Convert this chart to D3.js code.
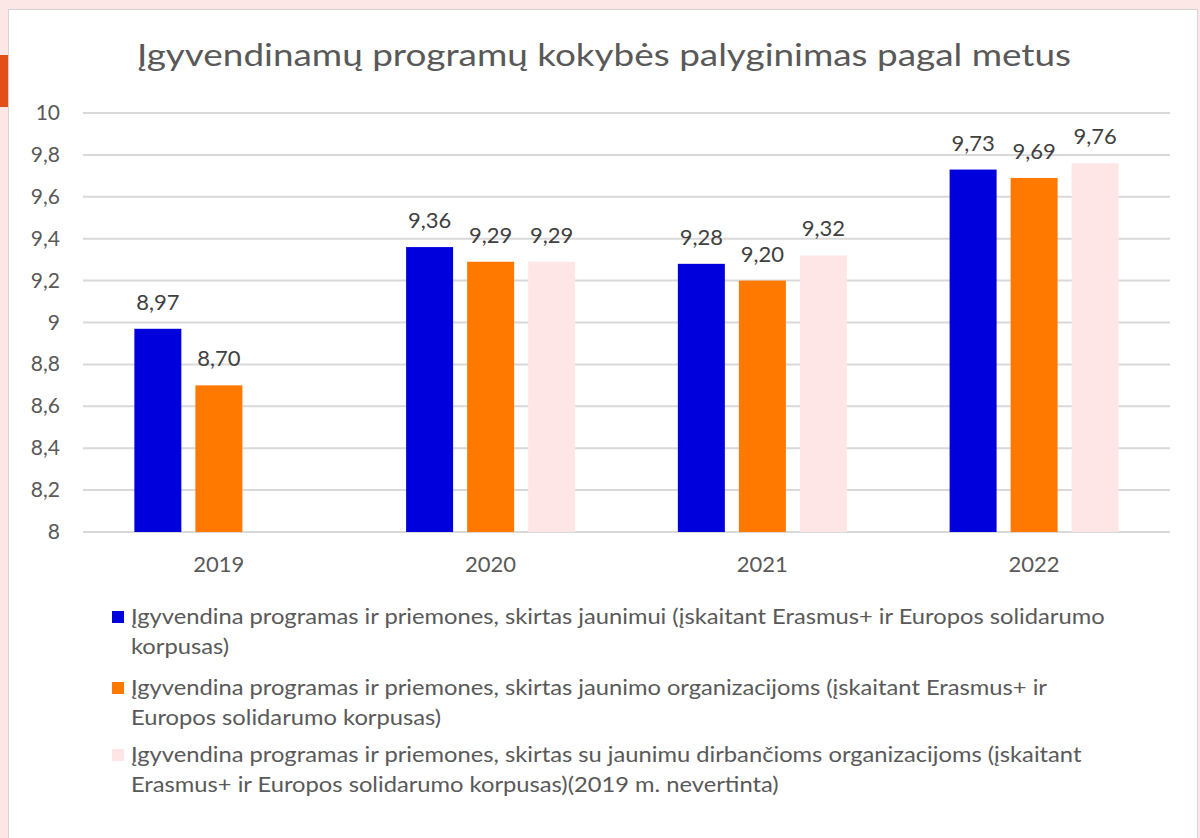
<!DOCTYPE html>
<html lang="lt">
<head>
<meta charset="utf-8">
<script src="https://cdn.jsdelivr.net/npm/d3@7"></script>
<style>
  body { margin: 0; background: #fde6e6; }
  svg { display: block; font-family: Lato, "Open Sans", sans-serif; }
</style>
</head>
<body>
<div id="chart"></div>
<script>
// data
const years = ["2019", "2020", "2021", "2022"];
const seriesNames = ["jaunimui", "jaunimoOrg", "suJaunimuDirb"];
const youthValues = [8.97, 9.36, 9.28, 9.73];
const youthOrgValues = [8.70, 9.29, 9.20, 9.69];
const youthWorkOrgValues = [null, 9.29, 9.32, 9.76]; // 2019 nevertinta
const yTicks = [8, 8.2, 8.4, 8.6, 8.8, 9, 9.2, 9.4, 9.6, 9.8, 10];
const legendLines = [
  ["Įgyvendina programas ir priemones, skirtas jaunimui (įskaitant Erasmus+ ir Europos solidarumo", "korpusas)"],
  ["Įgyvendina programas ir priemones, skirtas jaunimo organizacijoms (įskaitant Erasmus+ ir", "Europos solidarumo korpusas)"],
  ["Įgyvendina programas ir priemones, skirtas su jaunimu dirbančioms organizacijoms (įskaitant", "Erasmus+ ir Europos solidarumo korpusas)(2019 m. nevertinta)"]
];
const title = "Įgyvendinamų programų kokybės palyginimas pagal metus";

const colors = ["#0000dd", "#ff7800", "#ffe6e6"];
const allValues = [youthValues, youthOrgValues, youthWorkOrgValues];

const W = 1200, H = 838;
const plot = {left: 83, right: 1170, top: 113, bottom: 532};

const svg = d3.select("#chart").append("svg")
  .attr("width", W).attr("height", H);

// background + white panel
svg.append("rect").attr("width", W).attr("height", H).attr("fill", "#fde6e6");
svg.append("rect").attr("x", 0).attr("y", 55).attr("width", 8).attr("height", 52).attr("fill", "#e2501a");
svg.append("rect")
  .attr("x", 8.5).attr("y", 9.5).attr("width", 1189).attr("height", 840)
  .attr("fill", "#fff").attr("stroke", "#d4d4d4").attr("stroke-width", 1);

// title (the original font is wider, so stretch a bit)
svg.append("text")
  .attr("transform", "translate(604,66) scale(1.19,1)")
  .attr("text-anchor", "middle")
  .attr("font-size", 31)
  .attr("fill", "#595959")
  .text(title);

const y = d3.scaleLinear().domain([8, 10]).range([plot.bottom, plot.top]);
const x0 = d3.scaleBand().domain(years).range([plot.left, plot.right])
  .paddingInner(0.378).paddingOuter(0.189);
const x1 = d3.scaleBand().domain(seriesNames).range([0, x0.bandwidth()])
  .paddingInner(0.23).paddingOuter(0);

// gridlines
svg.append("g").selectAll("line").data(yTicks).join("line")
  .attr("x1", plot.left).attr("x2", plot.right)
  .attr("y1", d => y(d)).attr("y2", d => y(d))
  .attr("stroke", "#d9d9d9").attr("stroke-width", 2);

// y axis labels
const fmt = d => String(d).replace(".", ",");
svg.append("g").selectAll("text").data(yTicks).join("text")
  .attr("x", 60).attr("y", d => y(d) + 7)
  .attr("text-anchor", "end")
  .attr("font-size", 21)
  .attr("fill", "#595959")
  .text(fmt);

// x axis labels
svg.append("g").selectAll("text").data(years).join("text")
  .attr("x", d => x0(d) + x0.bandwidth() / 2)
  .attr("y", 572)
  .attr("text-anchor", "middle")
  .attr("font-size", 22)
  .attr("fill", "#595959")
  .text(d => d);

// bars
const barData = [];
years.forEach((yr, i) => {
  seriesNames.forEach((s, j) => {
    const v = allValues[j][i];
    if (v != null) barData.push({year: yr, series: s, value: v, color: colors[j]});
  });
});

svg.append("g").selectAll("rect").data(barData).join("rect")
  .attr("x", d => x0(d.year) + x1(d.series))
  .attr("y", d => y(d.value))
  .attr("width", x1.bandwidth())
  .attr("height", d => y(8) - y(d.value))
  .attr("fill", d => d.color);

svg.append("g").selectAll("text").data(barData).join("text")
  .attr("x", d => x0(d.year) + x1(d.series) + x1.bandwidth() / 2)
  .attr("y", d => y(d.value) - 19)
  .attr("text-anchor", "middle")
  .attr("font-size", 22)
  .attr("fill", "#404040")
  .text(d => d.value.toFixed(2).replace(".", ","));

// legend
const legendTop = [624, 695, 762];
const leg = svg.append("g").selectAll("g").data(legendLines).join("g");
leg.append("rect")
  .attr("x", 112).attr("y", (d, i) => legendTop[i] - 13)
  .attr("width", 12).attr("height", 12)
  .attr("fill", (d, i) => colors[i]);
leg.append("g")
  .attr("transform", "translate(131,0) scale(1.13,1)")
  .append("text")
  .attr("font-size", 21)
  .attr("fill", "#595959")
  .selectAll("tspan").data((d, i) => d.map(t => ({t, i}))).join("tspan")
  .attr("x", 0)
  .attr("y", (d, k) => legendTop[d.i] + k * 30)
  .text(d => d.t);
</script>
</body>
</html>
